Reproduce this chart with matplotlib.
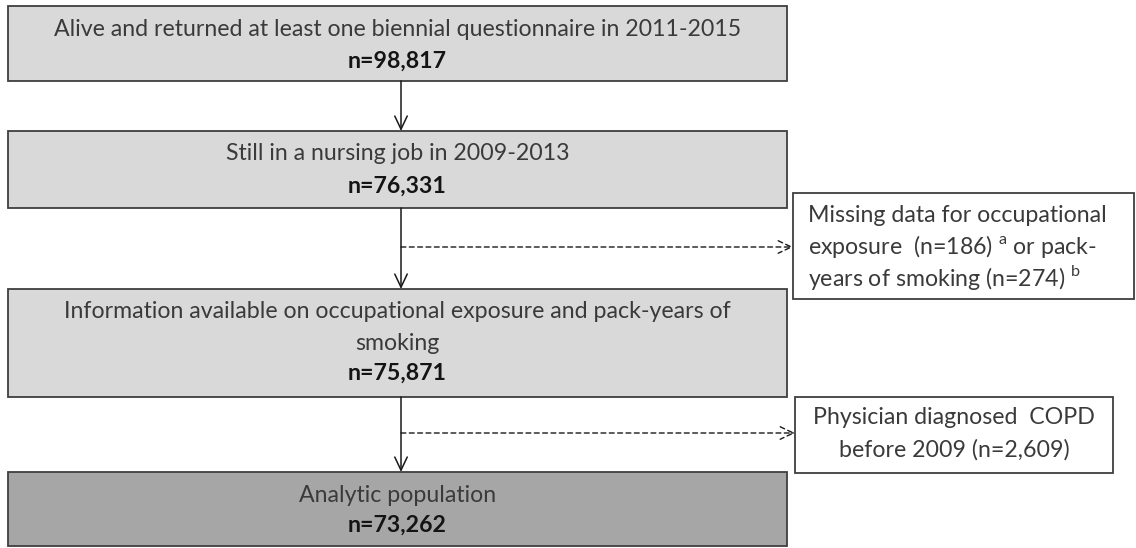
import matplotlib.pyplot as plt
from matplotlib.patches import Rectangle

plt.rcParams['font.family'] = ['Lato', 'DejaVu Sans']
plt.rcParams['mathtext.fontset'] = 'custom'
plt.rcParams['mathtext.rm'] = 'Lato'

# main flow boxes
main_labels = [
    ['Alive and returned at least one biennial questionnaire in 2011-2015'],
    ['Still in a nursing job in 2009-2013'],
    ['Information available on occupational exposure and pack-years of', 'smoking'],
    ['Analytic population'],
]
main_counts = ['98,817', '76,331', '75,871', '73,262']
main_fill = ['#d9d9d9', '#d9d9d9', '#d9d9d9', '#a6a6a6']

# exclusion boxes
excl_labels = [
    ['Missing data for occupational',
     'exposure  (n=186) $^{\\rm a}$ or pack-',
     'years of smoking (n=274) $^{\\rm b}$'],
    ['Physician diagnosed  COPD', 'before 2009 (n=2,609)'],
]
excl_align = ['left', 'center']

# layout (pixels, y downward)
main_x0, main_x1 = 8, 787
main_y = [(6, 81), (131, 208), (289, 397), (472, 546)]
main_line_y = [[29, 61], [153, 186], [312, 343, 373], [495, 525]]
excl_box = [(793, 1134, 193, 299), (795, 1113, 397, 473)]
excl_line_y = [[216, 247, 278], [418, 450]]
excl_arrow_y = [247, 433]
arrow_x = 401
fs = 16.7

fig = plt.figure(figsize=(11.36, 5.48), dpi=100)
ax = fig.add_axes([0, 0, 1, 1])
ax.set_xlim(0, 1136)
ax.set_ylim(548, 0)
ax.axis('off')

edge = '#3f3f3f'
head = '->,head_length=0.95,head_width=0.45'
xc = (main_x0 + main_x1) / 2
for i, (y0, y1) in enumerate(main_y):
    ax.add_patch(Rectangle((main_x0, y0), main_x1 - main_x0, y1 - y0,
                           facecolor=main_fill[i], edgecolor=edge, lw=1.3))
    lines = main_labels[i] + ['n=' + main_counts[i]]
    for k, s in enumerate(lines):
        bold = k == len(lines) - 1
        ax.text(xc, main_line_y[i][k], s, ha='center', va='center', fontsize=fs,
                fontweight='bold' if bold else 'normal',
                color='#141414' if bold else '#3a3a3a')

# vertical arrows
for i in range(len(main_y) - 1):
    ax.annotate('', xy=(arrow_x, main_y[i + 1][0]), xytext=(arrow_x, main_y[i][1]),
                arrowprops=dict(arrowstyle=head, color='#1a1a1a', lw=1.1,
                                shrinkA=0, shrinkB=0))

# exclusion boxes + dashed arrows
for j, (x0, x1, y0, y1) in enumerate(excl_box):
    ax.add_patch(Rectangle((x0, y0), x1 - x0, y1 - y0,
                           facecolor='white', edgecolor=edge, lw=1.3))
    tx = x0 + 15 if excl_align[j] == 'left' else (x0 + x1) / 2
    for k, s in enumerate(excl_labels[j]):
        ax.text(tx, excl_line_y[j][k], s, ha=excl_align[j], va='center',
                fontsize=fs, color='#3a3a3a')
    ax.annotate('', xy=(x0, excl_arrow_y[j]), xytext=(arrow_x, excl_arrow_y[j]),
                arrowprops=dict(arrowstyle=head, color='#1a1a1a', lw=1.0,
                                ls=(0, (3.5, 2.5)), shrinkA=0, shrinkB=0))

fig.savefig('out.png', dpi=100)
